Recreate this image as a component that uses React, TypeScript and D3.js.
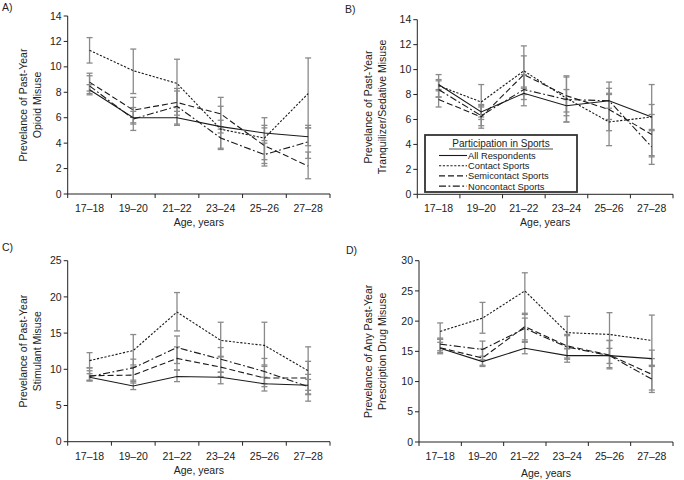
import React from "react";
import * as d3 from "d3";

const categories = ["17–18", "19–20", "21–22", "23–24", "25–26", "27–28"];
const seriesNames = ["All Respondents", "Contact Sports", "Semicontact Sports", "Noncontact Sports"];

// Opioid (panel A): rows = All, Contact, Semicontact, Noncontact
const opioidValues = [
  [8.2, 6.0, 6.0, 5.3, 4.8, 4.5],
  [11.3, 9.7, 8.7, 5.1, 4.4, 7.9],
  [8.8, 6.6, 7.2, 6.3, 3.8, 2.2],
  [8.5, 5.9, 6.9, 4.4, 3.1, 4.1],
];
const opioidLower = [
  [7.9, 5.5, 5.5, 4.8, 4.2, 3.8],
  [10.3, 7.9, 6.8, 3.5, 2.7, 5.2],
  [8.1, 5.6, 6.2, 5.1, 2.4, 1.2],
  [7.8, 5.0, 5.4, 3.6, 2.2, 2.8],
];
const opioidUpper = [
  [8.6, 6.5, 6.5, 5.8, 5.4, 5.2],
  [12.3, 11.4, 10.6, 6.9, 6.0, 10.7],
  [9.5, 7.6, 8.3, 7.6, 5.2, 3.3],
  [9.3, 6.8, 8.1, 5.3, 4.0, 5.4],
];

// Tranquilizer/Sedative (panel B)
const tranqValues = [
  [8.8, 6.6, 8.1, 7.1, 7.5, 6.2],
  [8.7, 7.4, 9.9, 7.7, 5.8, 6.2],
  [7.6, 6.2, 9.6, 7.9, 6.8, 4.8],
  [8.4, 6.3, 8.4, 7.6, 7.5, 3.8],
];
const tranqLower = [
  [8.4, 6.2, 7.6, 6.6, 6.9, 5.2],
  [7.8, 6.0, 8.5, 5.8, 3.9, 3.1],
  [7.0, 5.5, 8.0, 6.3, 5.1, 2.4],
  [7.8, 5.3, 7.1, 5.8, 6.0, 3.0],
];
const tranqUpper = [
  [9.2, 7.0, 8.6, 7.6, 8.1, 7.2],
  [9.6, 8.8, 11.9, 9.5, 8.0, 8.8],
  [8.3, 7.1, 11.1, 9.4, 8.5, 6.4],
  [9.1, 7.2, 9.6, 8.4, 9.0, 5.1],
];

// Stimulant (panel C)
const stimValues = [
  [8.9, 7.7, 9.0, 8.9, 8.0, 7.8],
  [11.2, 12.6, 17.9, 14.0, 13.3, 9.8],
  [9.1, 9.2, 11.5, 10.3, 8.8, 8.8],
  [9.0, 10.2, 13.0, 11.4, 9.7, 7.6],
];
const stimLower = [
  [8.4, 7.2, 8.3, 8.0, 7.0, 7.1],
  [10.2, 10.6, 15.3, 11.8, 10.4, 6.6],
  [8.5, 8.1, 9.9, 9.0, 7.6, 5.6],
  [8.4, 8.5, 10.8, 9.6, 8.0, 6.5],
];
const stimUpper = [
  [9.4, 8.3, 9.9, 9.6, 8.9, 8.6],
  [12.3, 14.8, 20.6, 16.5, 16.5, 13.1],
  [9.8, 10.3, 13.1, 11.7, 10.6, 11.1],
  [10.2, 11.4, 14.6, 13.0, 11.5, 9.3],
];

// Any prescription drug (panel D)
const anyValues = [
  [15.5, 13.3, 15.5, 14.3, 14.3, 13.8],
  [18.3, 20.5, 25.0, 18.1, 17.8, 16.8],
  [15.6, 13.9, 19.1, 15.9, 14.4, 11.2],
  [16.2, 15.3, 18.8, 15.7, 14.3, 10.4],
];
const anyLower = [
  [14.6, 12.5, 14.6, 13.2, 13.0, 12.5],
  [17.0, 18.0, 21.3, 15.5, 14.3, 12.6],
  [14.8, 12.7, 16.9, 13.9, 12.1, 8.6],
  [15.1, 13.6, 16.5, 13.7, 12.3, 8.2],
];
const anyUpper = [
  [16.5, 14.2, 16.6, 15.4, 15.5, 15.2],
  [19.7, 23.1, 28.0, 20.8, 21.4, 21.0],
  [17.0, 15.4, 21.1, 17.8, 16.8, 13.8],
  [17.2, 16.7, 20.5, 17.6, 16.8, 12.7],
];

const dashes = ["none", "2.2,1.6", "6,3", "7,2.5,1.8,2.5"];
const FONT = "Liberation Sans, Arial, sans-serif";

type PanelProps = {
  label: string;
  labelX: number;
  labelY: number;
  x0: number;
  x1: number;
  yTop: number;
  yBottom: number;
  yMax: number;
  step: number;
  titleLines: string[];
  titleX: number;
  values: number[][];
  lower: number[][];
  upper: number[][];
  catLabelY: number;
  axisTitleY: number;
};

function Panel(p: PanelProps) {
  const x = d3.scaleBand<string>().domain(categories).range([p.x0, p.x1]);
  const y = d3.scaleLinear().domain([0, p.yMax]).range([p.yBottom, p.yTop]);
  const ticks = d3.range(0, p.yMax + 0.001, p.step);
  const cx = (c: string) => (x(c) as number) + x.bandwidth() / 2;
  const line = d3
    .line<number>()
    .x((_, i) => cx(categories[i]))
    .y((v) => y(v));
  const boundaries = categories.map((c) => x(c) as number).concat([p.x1]);
  const titleCenterY = (p.yTop + p.yBottom) / 2;
  return (
    <g fontFamily={FONT}>
      <text x={p.labelX} y={p.labelY} fontSize={10.5} fill="#222">{p.label}</text>
      {/* y axis */}
      <line x1={p.x0} x2={p.x0} y1={p.yTop} y2={p.yBottom} stroke="#222" strokeWidth={1} />
      {ticks.map((t) => (
        <g key={t}>
          <line x1={p.x0 - 4} x2={p.x0} y1={y(t)} y2={y(t)} stroke="#222" />
          <text x={p.x0 - 6} y={y(t) + 3.6} fontSize={10.5} textAnchor="end" fill="#222">{t}</text>
        </g>
      ))}
      {/* x axis */}
      <line x1={p.x0} x2={p.x1} y1={p.yBottom} y2={p.yBottom} stroke="#222" strokeWidth={1} />
      {boundaries.map((b, i) => (
        <line key={i} x1={b} x2={b} y1={p.yBottom} y2={p.yBottom + 4} stroke="#222" />
      ))}
      {categories.map((c) => (
        <text key={c} x={cx(c)} y={p.catLabelY} fontSize={10.5} textAnchor="middle" fill="#222">{c}</text>
      ))}
      <text x={(p.x0 + p.x1) / 2} y={p.axisTitleY} fontSize={10.5} textAnchor="middle" fill="#222">Age, years</text>
      <text transform={`translate(${p.titleX},${titleCenterY}) rotate(-90)`} fontSize={10.5} textAnchor="middle" fill="#222">
        {p.titleLines.map((t, i) => (
          <tspan key={i} x={0} y={i * 13.5}>{t}</tspan>
        ))}
      </text>
      {/* error bars */}
      {p.values.map((s, si) => (
        <g key={"e" + si} stroke="#8a8a8a" strokeWidth={1.3}>
          {s.map((_, i) => {
            const xc = cx(categories[i]);
            const lo = y(p.lower[si][i]);
            const hi = y(p.upper[si][i]);
            return (
              <g key={i}>
                <line x1={xc} x2={xc} y1={lo} y2={hi} />
                <line x1={xc - 3} x2={xc + 3} y1={lo} y2={lo} />
                <line x1={xc - 3} x2={xc + 3} y1={hi} y2={hi} />
              </g>
            );
          })}
        </g>
      ))}
      {/* lines */}
      {p.values.map((s, si) => (
        <path key={"l" + si} d={line(s) || ""} fill="none" stroke="#1a1a1a" strokeWidth={1.1} strokeDasharray={dashes[si]} />
      ))}
    </g>
  );
}

function Legend() {
  const lx = 425, ly = 135, w = 152, h = 57;
  return (
    <g fontFamily={FONT} fontSize={9.3} fill="#222">
      <rect x={lx} y={ly} width={w} height={h} fill="white" stroke="#333" strokeWidth={1.8} />
      <text x={lx + w / 2} y={ly + 12} textAnchor="middle" fontSize={10}>Participation in Sports</text>
      <line x1={lx + 24} x2={lx + 128} y1={ly + 14} y2={ly + 14} stroke="#222" strokeWidth={0.8} />
      {seriesNames.map((n, i) => (
        <g key={n}>
          <line x1={lx + 14} x2={lx + 42} y1={ly + 20.5 + i * 10.2} y2={ly + 20.5 + i * 10.2} stroke="#1a1a1a" strokeWidth={1.1} strokeDasharray={dashes[i]} />
          <text x={lx + 43} y={ly + 24 + i * 10.2} fill="#222">{n}</text>
        </g>
      ))}
    </g>
  );
}

export default function App() {
  return (
    <svg width={684} height={480} style={{ position: "absolute", left: 0, top: 0, background: "white" }}>
      <rect width={684} height={480} fill="white" />
      <Panel label="A)" labelX={2} labelY={11} x0={67.7} x1={330} yTop={16} yBottom={194} yMax={14} step={2}
        titleLines={["Prevelance of Past-Year", "Opioid Misuse"]} titleX={27}
        values={opioidValues} lower={opioidLower} upper={opioidUpper} catLabelY={212} axisTitleY={226} />
      <Panel label="B)" labelX={345} labelY={13} x0={417.3} x1={673} yTop={19.7} yBottom={194.3} yMax={14} step={2}
        titleLines={["Prevelance of Past-Year", "Tranquilizer/Sedative Misuse"]} titleX={372}
        values={tranqValues} lower={tranqLower} upper={tranqUpper} catLabelY={212} axisTitleY={226} />
      <Panel label="C)" labelX={2} labelY={251} x0={67.7} x1={330} yTop={260.7} yBottom={441.7} yMax={25} step={5}
        titleLines={["Prevelance of Past-Year", "Stimulant Misuse"]} titleX={27}
        values={stimValues} lower={stimLower} upper={stimUpper} catLabelY={460} axisTitleY={474} />
      <Panel label="D)" labelX={346} labelY={254} x0={419} x1={673} yTop={260.7} yBottom={442} yMax={30} step={5}
        titleLines={["Prevelance of Any Past-Year", "Prescription Drug Misuse"]} titleX={372}
        values={anyValues} lower={anyLower} upper={anyUpper} catLabelY={460} axisTitleY={477} />
      <Legend />
    </svg>
  );
}
